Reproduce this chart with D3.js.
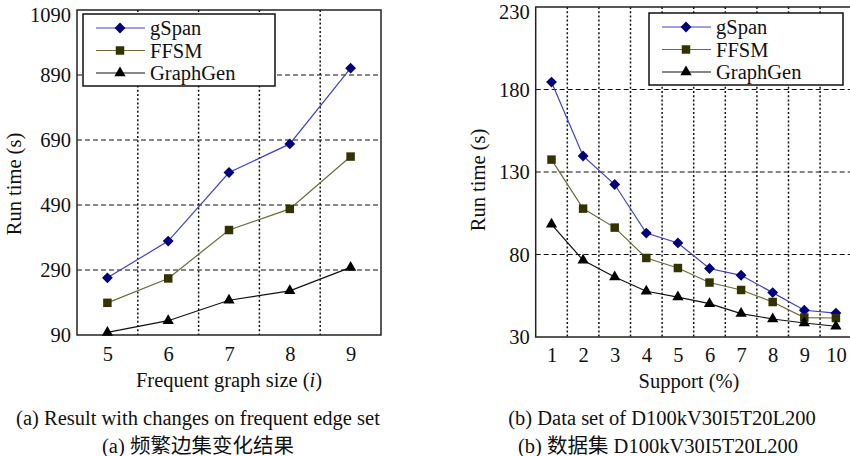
<!DOCTYPE html>
<html>
<head>
<meta charset="utf-8">
<script src="https://cdn.jsdelivr.net/npm/d3@7"></script>
<style>
  body { margin: 0; background: #fff; }
</style>
</head>
<body>
<svg id="chart" width="850" height="456"></svg>
<script>
// series names for the legend
const seriesNames = ["gSpan", "FFSM", "GraphGen"];

// panel (a): frequent graph size
const sizeX = [5, 6, 7, 8, 9];
const sizeGSpan = [266, 379, 590, 678, 911];
const sizeFFSM = [189, 264, 413, 478, 639];
const sizeGraphGen = [98, 134, 197, 226, 298];
const sizeTicksY = [90, 290, 490, 690, 890, 1090];

// panel (b): support
const supportX = [1, 2, 3, 4, 5, 6, 7, 8, 9, 10];
const supportGSpan = [184.5, 139.7, 122.4, 93, 87, 71.5, 67.4, 56.9, 46.2, 44.5];
const supportFFSM = [137.5, 107.8, 96.3, 77.9, 71.8, 63, 58.5, 51.2, 41.8, 41.5];
const supportGraphGen = [98.3, 76.5, 66.4, 57.7, 54.2, 50.2, 44.2, 40.9, 38.5, 36.5];
const supportTicksY = [30, 80, 130, 180, 230];

const serif = "Liberation Serif";
const fontSize = 20.5;
const svg = d3.select('#chart');

// look of each series: line colour, marker colour, marker shape
const styles = [
    {line: '#4040c8', fill: '#00007a', shape: d3.symbolDiamond2, size: 75},
    {line: '#6b6b3a', fill: '#333300', shape: d3.symbolSquare, size: 72},
    {line: '#111111', fill: '#000000', shape: d3.symbolTriangle, size: 55}
];

function addText(g){
    return g.append('text')
        .attr('font-family', serif)
        .attr('font-size', fontSize)
        .attr('fill', '#111');
}

function drawPanel(cfg){
    let g = svg.append('g');

    let xScale = d3.scaleLinear()
        .domain(cfg.xDomain)
        .range([cfg.left, cfg.right]);
    let yScale = d3.scaleLinear()
        .domain(cfg.yDomain)
        .range([cfg.bottom, cfg.top]);

    // horizontal dashed grid
    g.selectAll('.hgrid')
        .data(cfg.yTicks.slice(1, -1))
        .enter()
        .append('line')
        .attr('x1', cfg.left)
        .attr('x2', cfg.right)
        .attr('y1', d => yScale(d))
        .attr('y2', d => yScale(d))
        .attr('stroke', '#111')
        .attr('stroke-width', 1)
        .attr('stroke-dasharray', '5,3');

    // vertical dotted grid, between the categories
    g.selectAll('.vgrid')
        .data(cfg.xs.slice(0, -1).map(d => d + 0.5))
        .enter()
        .append('line')
        .attr('x1', d => xScale(d))
        .attr('x2', d => xScale(d))
        .attr('y1', cfg.top)
        .attr('y2', cfg.bottom)
        .attr('stroke', '#111')
        .attr('stroke-width', 1.5)
        .attr('stroke-dasharray', '2,2.2');

    // axes (labels only, frame drawn separately)
    let xAxis = d3.axisBottom(xScale)
        .tickValues(cfg.xs)
        .tickFormat(d3.format('d'))
        .tickSize(0)
        .tickPadding(cfg.xPad);
    let xg = g.append('g')
        .attr('transform', 'translate(0,' + cfg.bottom + ')')
        .call(xAxis);
    xg.select('.domain').remove();
    xg.attr('font-family', serif).attr('font-size', fontSize);
    xg.selectAll('text')
        .attr('dy', '0.35em')
        .attr('fill', '#111');

    let yAxis = d3.axisLeft(yScale)
        .tickValues(cfg.yTicks)
        .tickFormat(d3.format('d'))
        .tickSize(0)
        .tickPadding(6);
    let yg = g.append('g')
        .attr('transform', 'translate(' + cfg.left + ',0)')
        .call(yAxis);
    yg.select('.domain').remove();
    yg.attr('font-family', serif).attr('font-size', fontSize);
    yg.selectAll('text')
        .attr('fill', '#111');
    // top label sits a bit under the frame corner
    yg.selectAll('text')
        .filter(d => d === cfg.yTicks[cfg.yTicks.length - 1])
        .attr('dy', '0.55em');

    // plot frame
    g.append('rect')
        .attr('x', cfg.left)
        .attr('y', cfg.top)
        .attr('width', cfg.right - cfg.left)
        .attr('height', cfg.bottom - cfg.top)
        .attr('fill', 'none')
        .attr('stroke', '#222')
        .attr('stroke-width', 1.5);

    // lines and markers
    cfg.series.forEach((vals, i) => {
        let st = styles[i];
        let pts = cfg.xs.map((x, j) => [x, vals[j]]);
        g.append('path')
            .datum(pts)
            .attr('fill', 'none')
            .attr('stroke', st.line)
            .attr('stroke-width', 1.2)
            .attr('d', d3.line().x(d => xScale(d[0])).y(d => yScale(d[1])));
        g.selectAll('.m' + i)
            .data(pts)
            .enter()
            .append('path')
            .attr('transform', d => 'translate(' + xScale(d[0]) + ',' + yScale(d[1]) + ')')
            .attr('d', d3.symbol().type(st.shape).size(st.size))
            .attr('fill', st.fill);
    });

    // legend
    let lg = g.append('g')
        .attr('transform', 'translate(' + cfg.legend[0] + ',' + cfg.legend[1] + ')');
    lg.append('rect')
        .attr('width', cfg.legendW)
        .attr('height', 72)
        .attr('fill', '#fff')
        .attr('stroke', '#111')
        .attr('stroke-width', 1.5);
    seriesNames.forEach((name, i) => {
        let st = styles[i];
        let y = 14 + i * 22.5;
        lg.append('line')
            .attr('x1', 13).attr('x2', 62)
            .attr('y1', y).attr('y2', y)
            .attr('stroke', st.line)
            .attr('stroke-width', 1.2);
        lg.append('path')
            .attr('transform', 'translate(37,' + y + ')')
            .attr('d', d3.symbol().type(st.shape).size(st.size))
            .attr('fill', st.fill);
        addText(lg)
            .attr('x', 67)
            .attr('y', y)
            .attr('dy', '0.35em')
            .text(name);
    });

    // axis titles
    addText(g)
        .attr('transform', 'translate(' + cfg.yLabel[0] + ',' + cfg.yLabel[1] + ') rotate(-90)')
        .attr('text-anchor', 'middle')
        .attr('dy', '0.35em')
        .text('Run time (s)');
    let xl = addText(g)
        .attr('x', cfg.xLabel[0])
        .attr('y', cfg.xLabel[1])
        .attr('text-anchor', 'middle')
        .attr('dy', '0.35em')
        .text(cfg.xTitle);
    if(cfg.xItalic){
        xl.append('tspan').attr('font-style', 'italic').text(cfg.xItalic);
        xl.append('tspan').text(')');
    }

    // captions
    addText(g)
        .attr('x', cfg.caption[0])
        .attr('y', 418)
        .attr('text-anchor', 'middle')
        .attr('dy', '0.35em')
        .text(cfg.captionEn);
    addText(g)
        .attr('x', cfg.caption[1])
        .attr('y', 446)
        .attr('text-anchor', 'middle')
        .attr('dy', '0.35em')
        .attr('font-family', "Liberation Serif, Noto Sans CJK SC")
        .text(cfg.captionZh);
}

drawPanel({
    xs: sizeX,
    series: [sizeGSpan, sizeFFSM, sizeGraphGen],
    xDomain: [4.5, 9.5],
    yDomain: [90, 1090],
    yTicks: sizeTicksY,
    left: 77, right: 381, top: 10, bottom: 335,
    xPad: 18.5,
    legend: [83, 14], legendW: 192,
    yLabel: [14, 184],
    xLabel: [229, 380],
    xTitle: 'Frequent graph size (',
    xItalic: 'i',
    caption: [198, 198],
    captionEn: '(a) Result with changes on frequent edge set',
    captionZh: '(a)  频繁边集变化结果'
});

drawPanel({
    xs: supportX,
    series: [supportGSpan, supportFFSM, supportGraphGen],
    xDomain: [0.5, 10.5],
    yDomain: [30, 230],
    yTicks: supportTicksY,
    left: 535.7, right: 851.7, top: 7, bottom: 337,
    xPad: 18,
    legend: [649, 13], legendW: 194,
    yLabel: [478, 180],
    xLabel: [689, 381],
    xTitle: 'Support (%)',
    caption: [662, 658],
    captionEn: '(b) Data set of D100kV30I5T20L200',
    captionZh: '(b)  数据集 D100kV30I5T20L200'
});
</script>
</body>
</html>
